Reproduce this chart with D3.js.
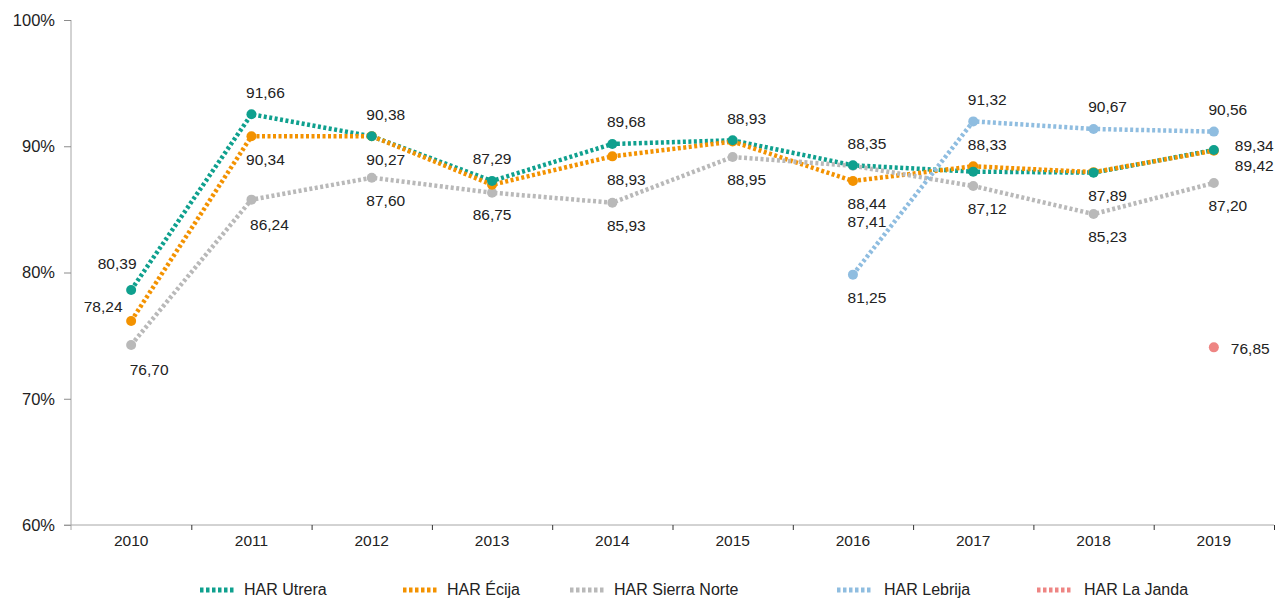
<!DOCTYPE html>
<html>
<head>
<meta charset="utf-8">
<script src="https://cdn.jsdelivr.net/npm/d3@7"></script>
<style>
  body { margin: 0; background: #fff; }
  svg { font-family: "Liberation Sans", Arial, Helvetica, sans-serif; }
  .tick text { fill: #222; }
  .val { fill: #222; font-size: 15.5px; }
  .legend-label { fill: #222; font-size: 16px; }
</style>
</head>
<body>
<svg id="chart" width="1278" height="604"></svg>
<script>
// Years on the x axis
const years = ["2010", "2011", "2012", "2013", "2014", "2015", "2016", "2017", "2018", "2019"];

// Plotted values, as drawn (%)
const utrera     = [78.61, 92.53, 90.79, 87.25, 90.18, 90.47, 88.49, 87.99, 87.91, 89.70];
const ecija      = [76.16, 90.79, 90.80, 86.95, 89.20, 90.37, 87.25, 88.41, 87.95, 89.65];
const sierraNorte = [74.26, 85.77, 87.51, 86.32, 85.53, 89.15, 88.45, 86.85, 84.63, 87.09];
const lebrija    = [null, null, null, null, null, null, 79.83, 91.97, 91.37, 91.16];
const laJanda    = [null, null, null, null, null, null, null, null, null, 74.07];

// Value labels printed next to the points (null = not shown)
const utreraLabels  = ["80,39", "91,66", "90,38", "87,29", "89,68", "88,93", "88,35", null, "87,89", "89,34"];
const ecijaLabels   = ["78,24", "90,34", "90,27", null, "88,93", null, "88,44", "88,33", null, "89,42"];
const sierraLabels  = ["76,70", "86,24", "87,60", "86,75", "85,93", "88,95", "87,41", "87,12", "85,23", "87,20"];
const lebrijaLabels = [null, null, null, null, null, null, "81,25", "91,32", "90,67", "90,56"];
const jandaLabels   = [null, null, null, null, null, null, null, null, null, "76,85"];

// Where each label sits relative to its point
const utreraPlace  = ["al", "a", "a", "a0", "a", "a", "a", null, "b", "ru"];
const ecijaPlace   = ["l", "b", "b", null, "b", null, "b", "a", null, "rd"];
const sierraPlace  = ["br", "br", "b", "b0", "b", "b", "bb", "b", "b", "b"];
const lebrijaPlace = [null, null, null, null, null, null, "b", "a", "a", "a"];
const jandaPlace   = [null, null, null, null, null, null, null, null, null, "r"];

const yTicks = [60, 70, 80, 90, 100];

const seriesNames = ["HAR Utrera", "HAR Écija", "HAR Sierra Norte", "HAR Lebrija", "HAR La Janda"];
const seriesColors = ["#0fa08e", "#f39200", "#b9b9b9", "#8fbde0", "#ee8583"];

const series = [
    {name: seriesNames[0], color: seriesColors[0], values: utrera, labels: utreraLabels, place: utreraPlace},
    {name: seriesNames[1], color: seriesColors[1], values: ecija, labels: ecijaLabels, place: ecijaPlace},
    {name: seriesNames[2], color: seriesColors[2], values: sierraNorte, labels: sierraLabels, place: sierraPlace},
    {name: seriesNames[3], color: seriesColors[3], values: lebrija, labels: lebrijaLabels, place: lebrijaPlace},
    {name: seriesNames[4], color: seriesColors[4], values: laJanda, labels: jandaLabels, place: jandaPlace}
];

// label offsets: [dx, dy, anchor]
const placeOffsets = {
    a:  [14, -22, "middle"],
    a0: [0, -22, "middle"],
    al: [-14, -26, "middle"],
    l:  [-28, -14, "middle"],
    b:  [14, 23, "middle"],
    b0: [0, 22, "middle"],
    br: [18, 25, "middle"],
    bb: [14, 56, "middle"],
    ru: [21, -4, "start"],
    rd: [21, 15, "start"],
    r:  [17, 1, "start"]
};

const svg = d3.select("#chart");
const margin = {top: 20, right: 4, bottom: 79, left: 71};
const width = 1278, height = 604;

const x = d3.scaleBand()
    .domain(years)
    .range([margin.left, width - margin.right]);

const y = d3.scaleLinear()
    .domain([60, 100])
    .range([height - margin.bottom, margin.top]);

const cx = i => x(years[i]) + x.bandwidth() / 2;

// Y axis
svg.append("g")
    .attr("transform", `translate(${margin.left},0)`)
    .call(d3.axisLeft(y).tickValues(yTicks).tickFormat(d => d + "%").tickSize(7).tickPadding(9))
    .call(g => g.select(".domain").attr("stroke", "#a6a6a6").attr("d", `M0,${margin.top}V${height - margin.bottom + 5}`))
    .call(g => g.selectAll(".tick line").attr("stroke", "#8c8c8c"))
    .call(g => g.selectAll(".tick text").style("font-size", "16.5px"));

// X axis with ticks on band boundaries
const xAxis = svg.append("g")
    .attr("transform", `translate(0,${height - margin.bottom})`);

xAxis.append("line")
    .attr("x1", margin.left - 7)
    .attr("x2", width - margin.right)
    .attr("stroke", "#a6a6a6");

xAxis.selectAll(".bound")
    .data(years)
    .join("line")
    .attr("class", "bound")
    .attr("x1", d => x(d) + x.bandwidth() + 0.5)
    .attr("x2", d => x(d) + x.bandwidth() + 0.5)
    .attr("y1", 0)
    .attr("y2", 5)
    .attr("stroke", "#333");

xAxis.selectAll(".year")
    .data(years)
    .join("text")
    .attr("class", "year")
    .attr("x", d => x(d) + x.bandwidth() / 2)
    .attr("y", 21)
    .attr("text-anchor", "middle")
    .style("font-size", "15.5px")
    .attr("fill", "#222")
    .text(d => d);

// Lines
const line = d3.line()
    .defined(d => d != null)
    .x((d, i) => cx(i))
    .y(d => y(d));

svg.append("g")
    .selectAll("path")
    .data(series)
    .join("path")
    .attr("fill", "none")
    .attr("stroke", d => d.color)
    .attr("stroke-width", 4.5)
    .attr("stroke-dasharray", "3,2.5")
    .attr("d", d => line(d.values));

// Points, Utrera on top
const pointOrder = [4, 3, 2, 1, 0];
svg.append("g")
    .selectAll("g")
    .data(pointOrder.map(i => series[i]))
    .join("g")
    .selectAll("circle")
    .data(s => s.values.map((v, i) => ({v, i, color: s.color})).filter(d => d.v != null))
    .join("circle")
    .attr("cx", d => cx(d.i))
    .attr("cy", d => y(d.v))
    .attr("r", 5)
    .attr("fill", d => d.color);

// Value labels
const labelData = [];
series.forEach(s => {
    s.labels.forEach((t, i) => {
        if (t != null) labelData.push({t, i, v: s.values[i], p: placeOffsets[s.place[i]]});
    });
});

svg.append("g")
    .selectAll("text")
    .data(labelData)
    .join("text")
    .attr("class", "val")
    .attr("x", d => cx(d.i) + d.p[0])
    .attr("y", d => y(d.v) + d.p[1])
    .attr("dy", "0.35em")
    .attr("text-anchor", d => d.p[2])
    .text(d => d.t);

// Legend (item start positions as laid out in the original)
const legendX = [200, 403, 570, 837, 1037];
const legend = svg.append("g")
    .attr("transform", `translate(0,${height - 9})`);

const item = legend.selectAll("g")
    .data(series)
    .join("g")
    .attr("transform", (d, i) => `translate(${legendX[i]},0)`);

item.append("line")
    .attr("x1", 0)
    .attr("x2", 36)
    .attr("y1", -5)
    .attr("y2", -5)
    .attr("stroke", d => d.color)
    .attr("stroke-width", 5)
    .attr("stroke-dasharray", "3.5,2.5");

item.append("text")
    .attr("class", "legend-label")
    .attr("x", d => d.name === "HAR Lebrija" || d.name === "HAR La Janda" ? 47 : 44)
    .attr("y", 0)
    .text(d => d.name);
</script>
</body>
</html>
